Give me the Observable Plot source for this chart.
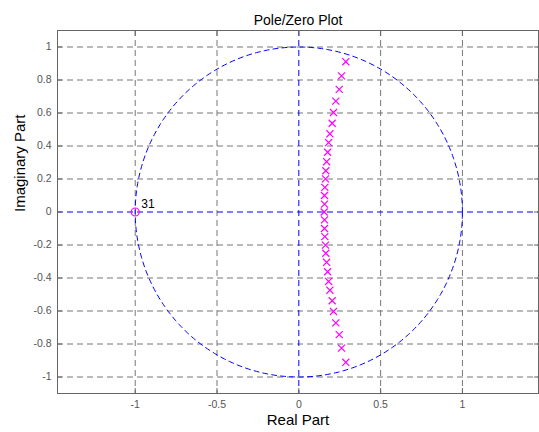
<!DOCTYPE html>
<html>
<head>
<meta charset="utf-8">
<script src="https://cdn.jsdelivr.net/npm/d3@7"></script>
<script src="https://cdn.jsdelivr.net/npm/@observablehq/plot@0.6"></script>
<style>
  html, body { margin: 0; padding: 0; background: #fff; }
  #chart svg { display: block; }
</style>
</head>
<body>
<div id="chart"></div>
<script>
// Poles (x marks): real and imaginary parts
const poleRe = [0.287, 0.261, 0.247, 0.226, 0.212, 0.204, 0.190, 0.182, 0.176, 0.170, 0.165, 0.163, 0.159, 0.157, 0.157, 0.155,
                0.157, 0.157, 0.159, 0.163, 0.165, 0.170, 0.176, 0.182, 0.190, 0.204, 0.212, 0.226, 0.247, 0.261, 0.287];
const poleIm = [0.911, 0.825, 0.743, 0.672, 0.603, 0.538, 0.474, 0.421, 0.362, 0.305, 0.250, 0.201, 0.149, 0.100, 0.048, 0,
                -0.048, -0.100, -0.149, -0.201, -0.250, -0.305, -0.362, -0.421, -0.474, -0.538, -0.603, -0.672, -0.743, -0.825, -0.911];
// Zeros (o marks)
const zeroRe = [-1];
const zeroIm = [0];
const zeroLabel = ["31"];
// Tick values and labels
const xTicks = [-1, -0.5, 0, 0.5, 1];
const xTickLabels = ["-1", "-0.5", "0", "0.5", "1"];
const yTicks = [-1, -0.8, -0.6, -0.4, -0.2, 0, 0.2, 0.4, 0.6, 0.8, 1];
const yTickLabels = ["-1", "-0.8", "-0.6", "-0.4", "-0.2", "0", "0.2", "0.4", "0.6", "0.8", "1"];
const titleText = "Pole/Zero Plot";
const xLabel = "Real Part";
const yLabel = "Imaginary Part";

const poles = poleRe.map((re, i) => ({re, im: poleIm[i]}));
const zeros = zeroRe.map((re, i) => ({re, im: zeroIm[i], label: zeroLabel[i]}));
// unit circle reference geometry
const circle = d3.range(0, 361, 1).map(a => ({re: Math.cos(a * Math.PI / 180), im: Math.sin(a * Math.PI / 180)}));

const xFmt = d => xTickLabels[xTicks.indexOf(d)];
const yFmt = d => yTickLabels[yTicks.indexOf(d)];
const gridColor = "#777";
const dash = "6,4";
const font = "Liberation Sans, Arial, Helvetica, sans-serif";

const chart = Plot.plot({
  width: 539,
  height: 432,
  marginTop: 30,
  marginRight: 1,
  marginBottom: 39,
  marginLeft: 57,
  style: {fontFamily: font, fontSize: "10.5px", background: "#fff"},
  x: {domain: [-1.475, 1.465]},
  y: {domain: [-1.1, 1.1]},
  marks: [
    Plot.gridX(xTicks.filter(d => d !== 0), {stroke: gridColor, strokeOpacity: 1, strokeDasharray: dash}),
    Plot.gridY(yTicks.filter(d => d !== 0), {stroke: gridColor, strokeOpacity: 1, strokeDasharray: dash}),
    Plot.ruleY([0], {stroke: "#0000ff", strokeDasharray: dash}),
    Plot.ruleX([0], {stroke: "#0000ff", strokeDasharray: dash}),
    Plot.line(circle, {x: "re", y: "im", stroke: "#0000ff", strokeDasharray: "5,4", strokeWidth: 1}),
    Plot.frame({stroke: "#666"}),
    Plot.axisX(xTicks, {anchor: "bottom", tickSize: -5, tickPadding: 12, tickFormat: xFmt, stroke: "#666", fill: "#555", label: null}),
    Plot.axisX(xTicks, {anchor: "top", tickSize: -5, tickFormat: () => "", stroke: "#666", label: null}),
    Plot.axisY(yTicks, {anchor: "left", tickSize: -5, tickPadding: 11, tickFormat: yFmt, stroke: "#666", fill: "#555", label: null}),
    Plot.axisY(yTicks, {anchor: "right", tickSize: -5, tickFormat: () => "", stroke: "#666", label: null}),
    Plot.dot(poles, {x: "re", y: "im", symbol: "times", r: 3.3, stroke: "#ff00ff", strokeWidth: 1.2}),
    Plot.dot(zeros, {x: "re", y: "im", symbol: "circle", r: 4, stroke: "#ff00ff", fill: "none", strokeWidth: 1.2}),
    Plot.text(zeros, {x: "re", y: "im", text: "label", dx: 6, dy: -8, textAnchor: "start", fontSize: 12, fill: "#000"}),
    Plot.text([titleText], {frameAnchor: "top", dy: -15, fontSize: 14, fill: "#000"}),
    Plot.text([xLabel], {frameAnchor: "bottom", dy: 31, fontSize: 15, fill: "#000"}),
    Plot.text([yLabel], {frameAnchor: "left", dx: -37, rotate: -90, fontSize: 15, fill: "#000"})
  ]
});
document.getElementById("chart").appendChild(chart);
</script>
</body>
</html>
